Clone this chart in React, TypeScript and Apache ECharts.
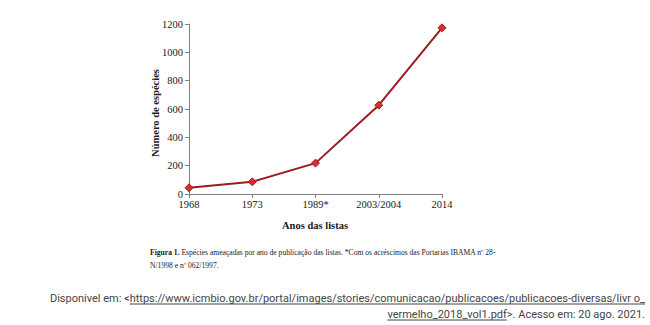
import React, { useEffect, useRef } from "react";
import * as echarts from "echarts";

const categories = ["1968", "1973", "1989*", "2003/2004", "2014"];
const values = [44, 86, 218, 627, 1173];
const yTicks = { min: 0, max: 1200, interval: 200 };
const yName = "Número de espécies";
const xName = "Anos das listas";
const captionBold = "Figura 1.";
const captionRest1 = " Espécies ameaçadas por ano de publicação das listas. *Com os acréscimos das Portarias IBAMA nº 28-";
const captionLine2 = "N/1998 e nº 062/1997.";
const footPrefix1 = "Disponivel em: <";
const footUrl1 = "https://www.icmbio.gov.br/portal/images/stories/comunicacao/publicacoes/publicacoes-diversas/livr o_";
const footUrl2 = "vermelho_2018_vol1.pdf";
const footSuffix2 = ">. Acesso em: 20 ago. 2021.";

const SERIF = "'Liberation Serif', 'Times New Roman', serif";
const FOOT_SIZE = 11;

function measure(text: string, font: string): number {
  const c = document.createElement("canvas").getContext("2d");
  if (!c) return text.length * 5;
  c.font = font;
  return c.measureText(text).width;
}

export default function App() {
  const ref = useRef<HTMLDivElement>(null);
  useEffect(() => {
    if (!ref.current) return;
    const chart = echarts.init(ref.current, null, { renderer: "svg" });
    const footFont = `${FOOT_SIZE}px Roboto`;
    const rightX = 645;
    const wUrl1 = measure(footUrl1, footFont);
    const wLine2 = measure(footUrl2 + footSuffix2, footFont);
    const wSuffix2 = measure(footSuffix2, footFont);
    const footColor = "#444444";
    chart.setOption({
      animation: false,
      backgroundColor: "#ffffff",
      grid: { left: 189, right: 208, top: 24, bottom: 131, containLabel: false },
      xAxis: {
        type: "category",
        data: categories,
        boundaryGap: false,
        axisLine: { lineStyle: { color: "#7f7f7f", width: 1 } },
        axisTick: { show: true, length: 4, lineStyle: { color: "#7f7f7f" }, alignWithLabel: true },
        axisLabel: { fontFamily: SERIF, fontSize: 10.5, color: "#1a1a1a", margin: 5 },
        splitLine: { show: false },
      },
      yAxis: {
        type: "value",
        min: yTicks.min,
        max: yTicks.max,
        interval: yTicks.interval,
        axisLine: { show: true, lineStyle: { color: "#7f7f7f", width: 1 } },
        axisTick: { show: true, length: 4, lineStyle: { color: "#7f7f7f" } },
        axisLabel: {
          fontFamily: SERIF,
          fontSize: 10.5,
          color: "#1a1a1a",
          margin: 6,
          formatter: (v: number) => String(v),
        },
        splitLine: { show: false },
      },
      series: [
        {
          type: "line",
          data: values,
          symbol: "diamond",
          symbolSize: 8,
          lineStyle: { color: "#9b1b1e", width: 2 },
          itemStyle: { color: "#d32f2f", borderColor: "#a8191c", borderWidth: 1 },
        },
      ],
      graphic: [
        {
          type: "text",
          x: 155,
          y: 113,
          rotation: Math.PI / 2,
          style: {
            text: yName,
            font: `bold 10.5px ${SERIF}`,
            fill: "#1a1a1a",
            align: "center",
            verticalAlign: "middle",
          },
        },
        {
          type: "text",
          x: 315,
          y: 225,
          style: {
            text: xName,
            font: `bold 10.5px ${SERIF}`,
            fill: "#1a1a1a",
            align: "center",
            verticalAlign: "middle",
          },
        },
        {
          type: "text",
          x: 150,
          y: 252,
          style: {
            text: `{b|${captionBold}}{r|${captionRest1}}`,
            verticalAlign: "middle",
            rich: {
              b: { fontFamily: SERIF, fontWeight: "bold", fontSize: 7.6, fill: "#1a1a1a" },
              r: { fontFamily: SERIF, fontSize: 7.6, fill: "#1a1a1a" },
            },
          },
        },
        {
          type: "text",
          x: 150,
          y: 265,
          style: {
            text: captionLine2,
            font: `7.6px ${SERIF}`,
            fill: "#1a1a1a",
            verticalAlign: "middle",
          },
        },
        {
          type: "text",
          x: rightX,
          y: 298,
          style: {
            text: footPrefix1 + footUrl1,
            font: footFont,
            fill: footColor,
            align: "right",
            verticalAlign: "middle",
          },
        },
        {
          type: "line",
          shape: { x1: rightX - wUrl1, y1: 304, x2: rightX, y2: 304 },
          style: { stroke: footColor, lineWidth: 1 },
        },
        {
          type: "text",
          x: rightX,
          y: 314,
          style: {
            text: footUrl2 + footSuffix2,
            font: footFont,
            fill: footColor,
            align: "right",
            verticalAlign: "middle",
          },
        },
        {
          type: "line",
          shape: { x1: rightX - wLine2, y1: 320, x2: rightX - wSuffix2, y2: 320 },
          style: { stroke: footColor, lineWidth: 1 },
        },
      ],
    });
    return () => chart.dispose();
  }, []);
  return (
    <div
      ref={ref}
      style={{ position: "absolute", left: 0, top: 0, width: 650, height: 325 }}
    />
  );
}
